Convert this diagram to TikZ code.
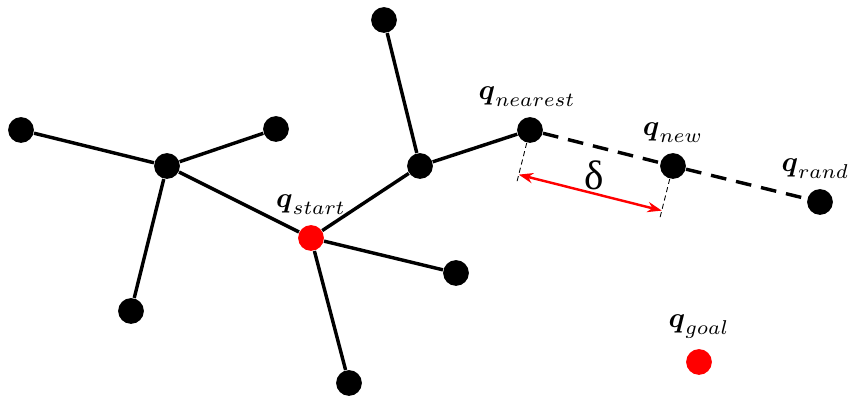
\documentclass[tikz,border=0pt]{standalone}
\usepackage{amsmath}
\usepackage{amssymb}
\usepackage{fontspec}
\newfontfamily\deltafont{Liberation Serif}
\usetikzlibrary{positioning,arrows.meta,calc}

\begin{document}
\begin{tikzpicture}[
        x=0.35pt, y=-0.35pt,
        dot/.style   = {circle, fill=black, inner sep=0pt, minimum size=9pt},
        root/.style  = {dot, fill=red},
        lbl/.style   = {label distance=0pt},
        edge/.style  = {line width=1.2pt},
        ext/.style   = {line width=1.2pt, dash pattern=on 5.5pt off 3.5pt},
        guide/.style = {line width=0.3pt, dash pattern=on 1.8pt off 1.2pt},
        dist/.style  = {{Stealth[length=5pt,width=3.6pt]}-{Stealth[length=5pt,width=3.6pt]}, red, line width=0.85pt}
    ]
    \useasboundingbox (0,0) rectangle (848,398);
    % tree
    \node[root, label={[lbl]above:$\boldsymbol{q}_{start}$}] (start) at (311,238) {};
    \node[dot] (hubl)  at (167,166) {};
    \node[dot] (far)   at (21,130) {};
    \node[dot] (up)    at (276,129) {};
    \node[dot] (down)  at (131,311) {};
    \node[dot] (hubr)  at (420,166) {};
    \node[dot] (top)   at (384,20) {};
    \node[dot] (right) at (456,273) {};
    \node[dot] (low)   at (349,383) {};
    \node[dot, label={[lbl, xshift=-1pt]above:$\boldsymbol{q}_{nearest}$}] (near) at (530,130) {};
    \node[dot, label={[lbl]above:$\boldsymbol{q}_{new}$}]     (new)  at (673,166) {};
    \node[dot, label={[lbl, xshift=-1.6pt]above:$\boldsymbol{q}_{rand}$}] (rand) at (820,202) {};
    \node[root, label={[lbl]above:$\boldsymbol{q}_{goal}$}]   (goal) at (699,362) {};
    \draw[edge] (hubl) -- (far);
    \draw[edge] (hubl) -- (up);
    \draw[edge] (hubl) -- (down);
    \draw[edge] (hubl) -- (start);
    \draw[edge] (start) -- (hubr);
    \draw[edge] (start) -- (right);
    \draw[edge] (start) -- (low);
    \draw[edge] (hubr) -- (top);
    \draw[edge] (hubr) -- (near);
    % extension
    \draw[ext] (near) -- (new);
    \draw[ext] (new) -- (rand);
    % step size
    \coordinate (a1) at ($(near)!0.09!-90:(new)$);
    \coordinate (a2) at ($(near)!0.36!-90:(new)$);
    \coordinate (b1) at ($(new)!0.09!90:(near)$);
    \coordinate (b2) at ($(new)!0.36!90:(near)$);
    \draw[guide] (a1) -- (a2);
    \draw[guide] (b1) -- (b2);
    \draw[dist] ($(near)!0.312!-90:(new)$) coordinate (d1)
             -- ($(new)!0.312!90:(near)$) coordinate (d2);
    \node[font=\Large\deltafont] (delta) at (594,175) {δ};
\end{tikzpicture}
\end{document}
